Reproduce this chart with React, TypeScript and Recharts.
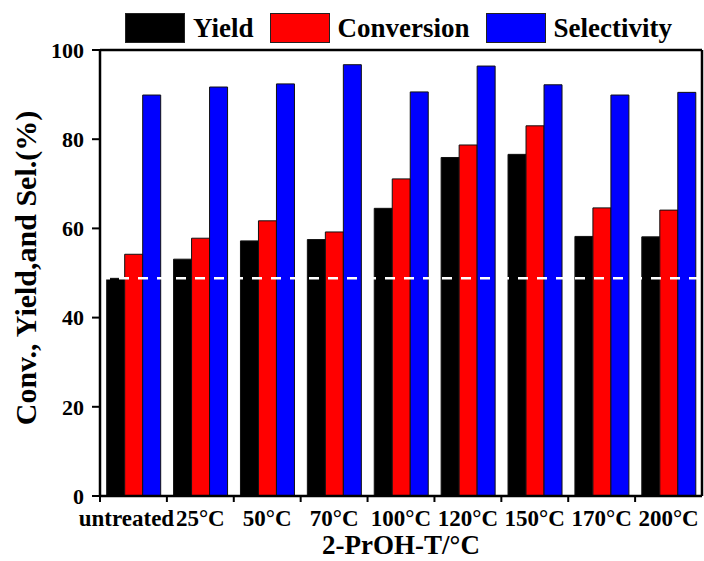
import React from 'react';
import { BarChart, Bar, XAxis, YAxis, ReferenceLine, Legend, Label } from 'recharts';

// Treatment temperature of 2-propanol and the three measured quantities (%)
const categories = ['untreated', '25°C', '50°C', '70°C', '100°C', '120°C', '150°C', '170°C', '200°C'];
const yieldValues = [48.8, 53.1, 57.2, 57.5, 64.5, 75.9, 76.6, 58.2, 58.1];
const conversionValues = [54.2, 57.8, 61.7, 59.2, 71.1, 78.7, 83.0, 64.6, 64.1];
const selectivityValues = [89.9, 91.7, 92.4, 96.7, 90.6, 96.4, 92.2, 89.9, 90.5];
const seriesNames = ['Yield', 'Conversion', 'Selectivity'];
const yTicks = [0, 20, 40, 60, 80, 100];

const data = categories.map((name, i) => ({
  name,
  yield: yieldValues[i],
  conversion: conversionValues[i],
  selectivity: selectivityValues[i],
}));

const FONT = '"Liberation Serif", "Times New Roman", serif';
const WIDTH = 704;
const HEIGHT = 561;
const Y_AXIS_WIDTH = 100;
const RIGHT_AXIS_WIDTH = 2;
const X_AXIS_HEIGHT = 65;
const X_TICK_SIZE = 6;
const X_TICK_MARGIN = 8;
const AXIS_STROKE = 2.5;

const halfBand = (WIDTH - Y_AXIS_WIDTH - RIGHT_AXIS_WIDTH) / categories.length / 2;

// Category label centred in its band, with the tick mark drawn on the band's left edge
function CategoryTick(props: any) {
  const { x, y, payload, index } = props;
  const half = payload && typeof payload.offset === 'number' && payload.offset > 0 ? payload.offset : halfBand;
  const axisY = y - X_TICK_SIZE - X_TICK_MARGIN;
  const edgeX = x - half;
  return (
    <g>
      <line x1={edgeX} y1={axisY} x2={edgeX} y2={axisY + X_TICK_SIZE} stroke="#000" strokeWidth={2} />
      <text
        x={x}
        y={y}
        dx={index === 0 ? -7 : 0}
        dy="0.71em"
        textAnchor="middle"
        fontFamily={FONT}
        fontWeight="bold"
        fontSize={23}
        fill="#000"
      >
        {payload.value}
      </text>
    </g>
  );
}

function LegendContent(props: any) {
  const payload = [...(props.payload || [])].sort(
    (a: any, b: any) => seriesNames.indexOf(a.value) - seriesNames.indexOf(b.value)
  );
  return (
    <div style={{ display: 'flex', alignItems: 'center', height: 30, fontFamily: FONT }}>
      {payload.map((entry: any) => (
        <div key={entry.value} style={{ display: 'flex', alignItems: 'center', marginRight: 16 }}>
          <div
            style={{
              width: 60,
              height: 30,
              boxSizing: 'border-box',
              background: entry.color,
              border: '1px solid #222',
              marginRight: 8,
            }}
          />
          <span style={{ fontSize: 27, fontWeight: 'bold', lineHeight: '30px', color: '#000', whiteSpace: 'nowrap' }}>
            {entry.value}
          </span>
        </div>
      ))}
    </div>
  );
}

function YTitle(props: any) {
  const { viewBox } = props;
  const cx = viewBox.x + 36;
  const cy = viewBox.y + viewBox.height / 2 - 5;
  return (
    <text
      x={cx}
      y={cy}
      transform={`rotate(-90, ${cx}, ${cy})`}
      textAnchor="middle"
      fontFamily={FONT}
      fontWeight="bold"
      fontSize={30}
      fill="#000"
    >
      Conv., Yield,and Sel.(%)
    </text>
  );
}

export default function App() {
  return (
    <div style={{ position: 'absolute', left: 0, top: 0, width: WIDTH, height: HEIGHT, background: '#fff' }}>
      <BarChart
        width={WIDTH}
        height={HEIGHT}
        data={data}
        margin={{ top: 50, right: 0, bottom: 0, left: 0 }}
        barCategoryGap="10%"
        barGap={0}
      >
        <XAxis
          dataKey="name"
          height={X_AXIS_HEIGHT}
          interval={0}
          axisLine={{ stroke: '#000', strokeWidth: AXIS_STROKE }}
          tickLine={false}
          tickSize={X_TICK_SIZE}
          tickMargin={X_TICK_MARGIN}
          tick={<CategoryTick />}
        >
          <Label
            value="2-PrOH-T/°C"
            position="insideBottom"
            offset={7}
            style={{ fontFamily: FONT, fontWeight: 'bold', fontSize: 27, fill: '#000' }}
          />
        </XAxis>
        <YAxis
          yAxisId="left"
          width={Y_AXIS_WIDTH}
          domain={[0, 100]}
          ticks={yTicks}
          interval={0}
          axisLine={{ stroke: '#000', strokeWidth: AXIS_STROKE }}
          tickLine={{ stroke: '#000', strokeWidth: 2 }}
          tickSize={8}
          tickMargin={8}
          tick={{ fontFamily: FONT, fontWeight: 'bold', fontSize: 22, fill: '#000' }}
        >
          <Label content={<YTitle />} />
        </YAxis>
        <YAxis
          yAxisId="right"
          orientation="right"
          width={RIGHT_AXIS_WIDTH}
          domain={[0, 100]}
          tick={false}
          tickLine={false}
          axisLine={{ stroke: '#000', strokeWidth: AXIS_STROKE }}
        />
        <Legend
          layout="vertical"
          verticalAlign="middle"
          align="center"
          wrapperStyle={{ top: 13, left: 125, width: 'auto' }}
          content={<LegendContent />}
        />
        <Bar yAxisId="left" dataKey="yield" name="Yield" fill="#000000" stroke="#111" strokeWidth={1} isAnimationActive={false} />
        <Bar yAxisId="left" dataKey="conversion" name="Conversion" fill="#ff0000" stroke="#111" strokeWidth={1} isAnimationActive={false} />
        <Bar yAxisId="left" dataKey="selectivity" name="Selectivity" fill="#0000ff" stroke="#111" strokeWidth={1} isAnimationActive={false} />
        <ReferenceLine yAxisId="left" y={yieldValues[0]} stroke="#ffffff" strokeWidth={2.5} strokeDasharray="10 9" />
        <ReferenceLine yAxisId="left" y={100} stroke="#000" strokeWidth={AXIS_STROKE} />
      </BarChart>
    </div>
  );
}
